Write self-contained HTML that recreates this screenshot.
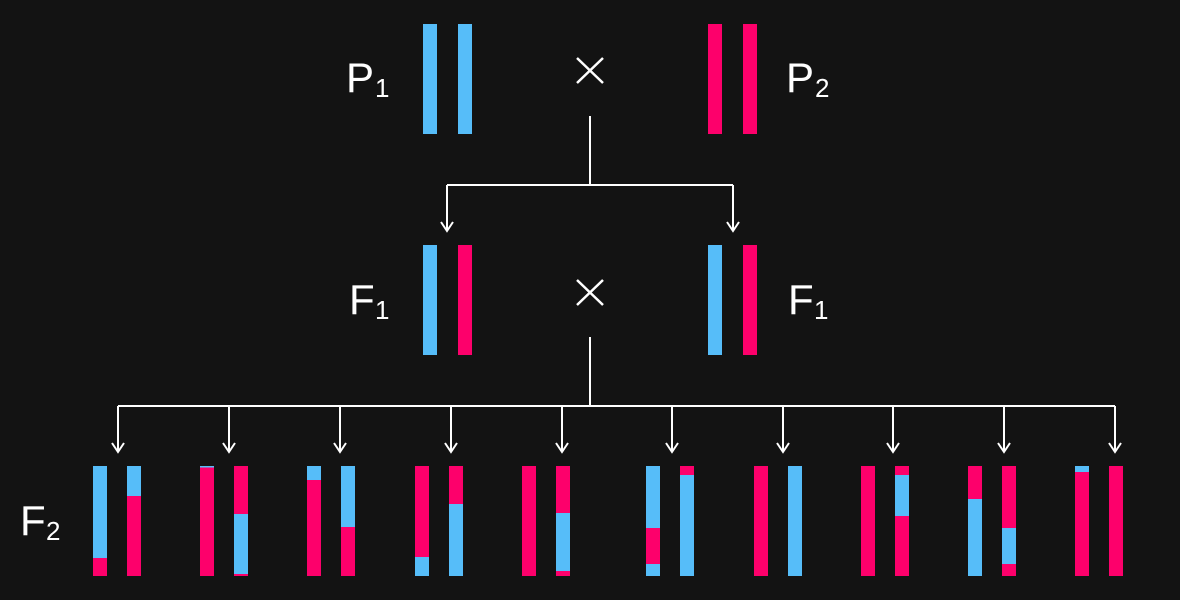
<!DOCTYPE html>
<html><head><meta charset="utf-8"><style>html,body{margin:0;padding:0;background:#131313;}svg{display:block}</style></head>
<body>
<svg width="1180" height="600" viewBox="0 0 1180 600" xmlns="http://www.w3.org/2000/svg">
<rect width="1180" height="600" fill="#131313"/>
<g font-family="Liberation Sans, sans-serif" fill="#fff">
<text x="346" y="92" font-size="42">P</text><text x="375" y="97" font-size="26">1</text>
<text x="786" y="92" font-size="42">P</text><text x="815" y="97" font-size="26">2</text>
<text x="349" y="314" font-size="42">F</text><text x="375" y="319" font-size="26">1</text>
<text x="788" y="314" font-size="42">F</text><text x="814" y="319" font-size="26">1</text>
<text x="20" y="535" font-size="42">F</text><text x="46" y="540" font-size="26">2</text>
</g>
<g stroke="#fff" stroke-width="2.5" fill="none">
<path d="M577 58L603 83M603 58L577 83"/>
<path d="M577 280L603 305M603 280L577 305"/>
</g>
<g stroke="#fff" stroke-width="2" fill="none">
<path d="M590 116V185M447 185H733M447 185V231M733 185V231"/>
<path d="M441 222L447 231L453 222M727 222L733 231L739 222"/>
<path d="M590 337V406M118 406H1115"/>
<path d="M118 406V452M229 406V452M340 406V452M451 406V452M562 406V452M672 406V452M783 406V452M893 406V452M1004 406V452M1115 406V452"/>
<path d="M112 443L118 452L124 443M223 443L229 452L235 443M334 443L340 452L346 443M445 443L451 452L457 443M556 443L562 452L568 443M666 443L672 452L678 443M777 443L783 452L789 443M887 443L893 452L899 443M998 443L1004 452L1010 443M1109 443L1115 452L1121 443"/>
</g>
<g>
<rect x="423" y="24" width="14" height="110" fill="#56bdf9"/>
<rect x="458" y="24" width="14" height="110" fill="#56bdf9"/>
<rect x="708" y="24" width="14" height="110" fill="#fd006b"/>
<rect x="743" y="24" width="14" height="110" fill="#fd006b"/>
<rect x="423" y="245" width="14" height="110" fill="#56bdf9"/>
<rect x="458" y="245" width="14" height="110" fill="#fd006b"/>
<rect x="708" y="245" width="14" height="110" fill="#56bdf9"/>
<rect x="743" y="245" width="14" height="110" fill="#fd006b"/>
</g>
<g id="f2">
<!-- pair1 -->
<rect x="93" y="466" width="14" height="110" fill="#fd006b"/><rect x="93" y="466" width="14" height="92" fill="#56bdf9"/>
<rect x="127" y="466" width="14" height="110" fill="#fd006b"/><rect x="127" y="466" width="14" height="30" fill="#56bdf9"/>
<!-- pair2 -->
<rect x="200" y="466" width="14" height="110" fill="#fd006b"/><rect x="200" y="466" width="14" height="1.5" fill="#56bdf9"/>
<rect x="234" y="466" width="14" height="110" fill="#fd006b"/><rect x="234" y="514" width="14" height="60" fill="#56bdf9"/>
<!-- pair3 -->
<rect x="307" y="466" width="14" height="110" fill="#fd006b"/><rect x="307" y="466" width="14" height="14" fill="#56bdf9"/>
<rect x="341" y="466" width="14" height="110" fill="#fd006b"/><rect x="341" y="466" width="14" height="61" fill="#56bdf9"/>
<!-- pair4 -->
<rect x="415" y="466" width="14" height="110" fill="#56bdf9"/><rect x="415" y="466" width="14" height="91" fill="#fd006b"/>
<rect x="449" y="466" width="14" height="110" fill="#56bdf9"/><rect x="449" y="466" width="14" height="38" fill="#fd006b"/>
<!-- pair5 -->
<rect x="522" y="466" width="14" height="110" fill="#fd006b"/>
<rect x="556" y="466" width="14" height="110" fill="#fd006b"/><rect x="556" y="513" width="14" height="58" fill="#56bdf9"/>
<!-- pair6 -->
<rect x="646" y="466" width="14" height="110" fill="#56bdf9"/><rect x="646" y="528" width="14" height="36" fill="#fd006b"/>
<rect x="680" y="466" width="14" height="110" fill="#56bdf9"/><rect x="680" y="466" width="14" height="9" fill="#fd006b"/>
<!-- pair7 -->
<rect x="754" y="466" width="14" height="110" fill="#fd006b"/>
<rect x="788" y="466" width="14" height="110" fill="#56bdf9"/>
<!-- pair8 -->
<rect x="861" y="466" width="14" height="110" fill="#fd006b"/>
<rect x="895" y="466" width="14" height="110" fill="#fd006b"/><rect x="895" y="475" width="14" height="41" fill="#56bdf9"/>
<!-- pair9 -->
<rect x="968" y="466" width="14" height="110" fill="#56bdf9"/><rect x="968" y="466" width="14" height="33" fill="#fd006b"/>
<rect x="1002" y="466" width="14" height="110" fill="#fd006b"/><rect x="1002" y="528" width="14" height="36" fill="#56bdf9"/>
<!-- pair10 -->
<rect x="1075" y="466" width="14" height="110" fill="#fd006b"/><rect x="1075" y="466" width="14" height="6" fill="#56bdf9"/>
<rect x="1109" y="466" width="14" height="110" fill="#fd006b"/>
</g>
</svg>
</body></html>
